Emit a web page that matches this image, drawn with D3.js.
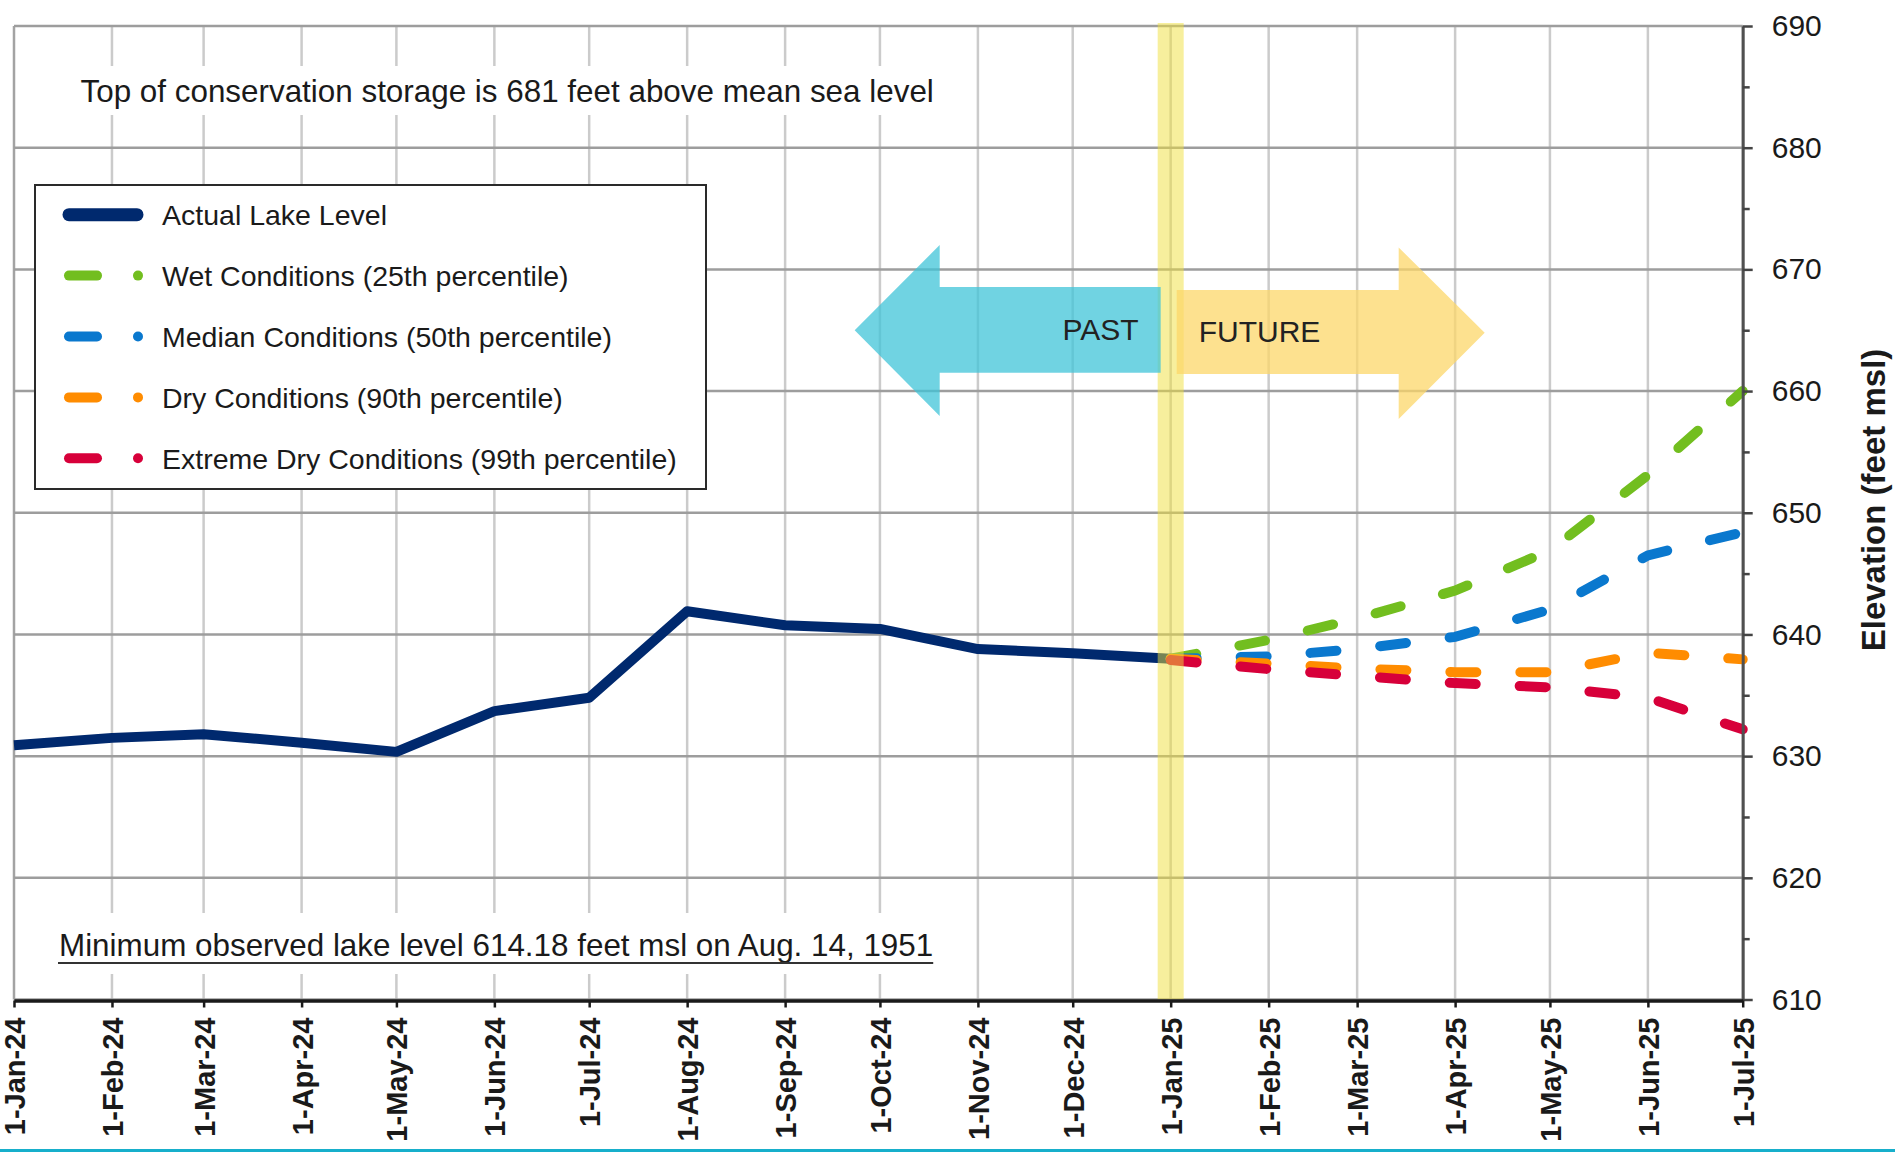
<!DOCTYPE html>
<html>
<head>
<meta charset="utf-8">
<script src="https://cdn.jsdelivr.net/npm/d3@7"></script>
<style>
  body { margin: 0; background: #fff; }
  svg { display: block; font-family: "Liberation Sans", Arial, sans-serif; }
</style>
</head>
<body>
<div id="vizArea"></div>
<script>
// month ticks, 1-Jan-24 .. 1-Jul-25
const monthLabels = ["1-Jan-24", "1-Feb-24", "1-Mar-24", "1-Apr-24", "1-May-24", "1-Jun-24",
  "1-Jul-24", "1-Aug-24", "1-Sep-24", "1-Oct-24", "1-Nov-24", "1-Dec-24", "1-Jan-25",
  "1-Feb-25", "1-Mar-25", "1-Apr-25", "1-May-25", "1-Jun-25", "1-Jul-25"];

// lake elevation, feet msl
const actualLevel = [630.9, 631.5, 631.8, 631.1, 630.35, 633.7, 634.8, 641.9, 640.75, 640.45, 638.8, 638.45, 638.0];
const forecastLabels = monthLabels.slice(12);
const wetLevel = [638.0, 639.55, 641.3, 643.6, 646.9, 653.1, 660.0];
const medianLevel = [638.0, 638.2, 638.8, 639.8, 642.05, 646.5, 648.4];
const dryLevel = [638.0, 637.6, 637.2, 636.9, 636.9, 638.5, 637.95];
const extremeLevel = [637.9, 637.15, 636.6, 636.0, 635.65, 634.8, 632.2];

const elevationTicks = [610, 620, 630, 640, 650, 660, 670, 680, 690];
const minorTicks = [615, 625, 635, 645, 655, 665, 675, 685];

const legendNames = ["Actual Lake Level", "Wet Conditions (25th percentile)", "Median Conditions (50th percentile)",
  "Dry Conditions (90th percentile)", "Extreme Dry Conditions (99th percentile)"];
const legendColors = ["#00296e", "#72be1f", "#0a78ce", "#ff8c00", "#d7003a"];

const width = 1895, height = 1152;
const plotLeft = 14, plotRight = 1742.7, plotTop = 26, plotBottom = 999.5;

const parseMonth = d3.timeParse("%d-%b-%y");
const monthDates = monthLabels.map(parseMonth);

const svg = d3.select("#vizArea")
  .append("svg")
  .attr("width", width)
  .attr("height", height);

const x = d3.scaleTime()
  .domain(d3.extent(monthDates))
  .range([plotLeft, plotRight]);

const y = d3.scaleLinear()
  .domain([610, 690])
  .range([plotBottom, plotTop]);

// grid
svg.append("g")
  .selectAll("line")
  .data(monthDates)
  .join("line")
  .attr("x1", d => x(d)).attr("x2", d => x(d))
  .attr("y1", plotTop).attr("y2", plotBottom)
  .attr("stroke", (d, i) => i == 0 ? "#a3a3a3" : "#cbcbcb")
  .attr("stroke-width", 2.5);

svg.append("g")
  .selectAll("line")
  .data(elevationTicks)
  .join("line")
  .attr("x1", plotLeft).attr("x2", plotRight)
  .attr("y1", d => y(d)).attr("y2", d => y(d))
  .attr("stroke", "#9d9d9d")
  .attr("stroke-width", 2.5);

// notes with white backing
svg.append("rect").attr("x", 70).attr("y", 66).attr("width", 872).attr("height", 49).attr("fill", "#fff");
svg.append("text")
  .attr("x", 80.5).attr("y", 101.5)
  .attr("font-size", 31.4).attr("fill", "#1a1a1a")
  .text("Top of conservation storage is 681 feet above mean sea level");

svg.append("rect").attr("x", 50).attr("y", 913).attr("width", 890).attr("height", 61).attr("fill", "#fff");
const minNote = svg.append("text")
  .attr("x", 59).attr("y", 956)
  .attr("font-size", 31.4).attr("fill", "#1a1a1a")
  .text("Minimum observed lake level 614.18 feet msl on Aug. 14, 1951");
svg.append("line")
  .attr("x1", 58).attr("x2", 59 + minNote.node().getComputedTextLength())
  .attr("y1", 963).attr("y2", 963)
  .attr("stroke", "#333").attr("stroke-width", 2);

// legend
const legend = svg.append("g");
legend.append("rect")
  .attr("x", 35).attr("y", 185).attr("width", 671).attr("height", 304)
  .attr("fill", "#fff").attr("stroke", "#2a2a2a").attr("stroke-width", 2);

const item = legend.selectAll("g.item")
  .data(legendNames)
  .join("g")
  .attr("class", "item")
  .attr("transform", (d, i) => `translate(0,${214.7 + i * 60.9})`);

item.append("line")
  .attr("x1", 69).attr("x2", d => d == legendNames[0] ? 137 : 97)
  .attr("stroke", (d, i) => legendColors[i])
  .attr("stroke-width", (d, i) => i == 0 ? 13 : 10)
  .attr("stroke-linecap", "round");
item.filter((d, i) => i > 0)
  .append("circle")
  .attr("cx", 138).attr("r", 5)
  .attr("fill", d => legendColors[legendNames.indexOf(d)]);
item.append("text")
  .attr("x", 162).attr("dy", "0.36em")
  .attr("font-size", 28.5).attr("fill", "#1a1a1a")
  .text(d => d);

// lines
const line = d3.line()
  .x(d => x(d.date))
  .y(d => y(d.value));

svg.append("path")
  .datum(actualLevel.map((v, i) => ({date: monthDates[i], value: v})))
  .attr("fill", "none")
  .attr("stroke", legendColors[0])
  .attr("stroke-width", 10)
  .attr("stroke-linejoin", "round")
  .attr("d", line);

const forecasts = [wetLevel, medianLevel, dryLevel, extremeLevel];
forecasts.forEach((series, k) => {
  svg.append("path")
    .datum(series.map((v, i) => ({date: parseMonth(forecastLabels[i]), value: v})))
    .attr("fill", "none")
    .attr("stroke", legendColors[k + 1])
    .attr("stroke-width", 10)
    .attr("stroke-linecap", "round")
    .attr("stroke-dasharray", "26,44")
    .attr("d", line);
});

// today band
const x0 = x(parseMonth("1-Jan-25"));
svg.append("rect")
  .attr("x", x0 - 13).attr("y", plotTop - 3)
  .attr("width", 26).attr("height", plotBottom - plotTop + 3)
  .attr("fill", "#f0e03c").attr("opacity", 0.5);

// past / future arrows
const pastArrow = [[x0 - 316, 665], [x0 - 231, 672], [x0 - 231, 668.55], [x0 - 10, 668.55],
  [x0 - 10, 661.5], [x0 - 231, 661.5], [x0 - 231, 657.95]];
const futureArrow = [[x0 + 6, 668.3], [x0 + 228, 668.3], [x0 + 228, 671.8], [x0 + 314, 664.8],
  [x0 + 228, 657.7], [x0 + 228, 661.4], [x0 + 6, 661.4]];

svg.append("path")
  .attr("d", "M" + pastArrow.map(p => [p[0], y(p[1])].join(",")).join("L") + "Z")
  .attr("fill", "rgb(64,196,216)").attr("opacity", 0.75);
svg.append("path")
  .attr("d", "M" + futureArrow.map(p => [p[0], y(p[1])].join(",")).join("L") + "Z")
  .attr("fill", "rgb(252,215,106)").attr("opacity", 0.75);

svg.append("text")
  .attr("x", x0 - 32).attr("y", 340)
  .attr("text-anchor", "end")
  .attr("font-size", 30).attr("fill", "#222")
  .text("PAST");
svg.append("text")
  .attr("x", x0 + 28).attr("y", 341.5)
  .attr("font-size", 30).attr("fill", "#222")
  .text("FUTURE");

// axes
const yAxis = svg.append("g")
  .attr("transform", `translate(${plotRight},0)`)
  .call(d3.axisRight(y).tickValues(elevationTicks).tickSize(10).tickSizeOuter(0).tickPadding(19));
yAxis.append("g")
  .call(d3.axisRight(y).tickValues(minorTicks).tickSize(7).tickFormat(""))
  .select(".domain").remove();
yAxis.selectAll("line").attr("stroke", "#444").attr("stroke-width", 2.5);
yAxis.select(".domain").attr("stroke", "#505050").attr("stroke-width", 3);
yAxis.selectAll("text").attr("font-size", 30).attr("fill", "#1a1a1a")
  .attr("font-family", "Liberation Sans, Arial, sans-serif");

const xAxis = svg.append("g")
  .attr("transform", `translate(0,${plotBottom + 1})`)
  .call(d3.axisBottom(x).tickValues(monthDates).tickSize(7).tickSizeOuter(0)
    .tickFormat((d, i) => monthLabels[i]));
xAxis.select(".domain").attr("stroke", "#1a1a1a").attr("stroke-width", 3.5);
xAxis.selectAll("line").attr("stroke", "#1a1a1a").attr("stroke-width", 2.5);
xAxis.selectAll("text")
  .attr("transform", "rotate(-90)")
  .attr("text-anchor", "end")
  .attr("x", -17).attr("y", 0).attr("dy", "0.36em")
  .attr("font-size", 29).attr("font-weight", "bold").attr("fill", "#1a1a1a")
  .attr("font-family", "Liberation Sans, Arial, sans-serif");

svg.append("text")
  .attr("transform", "translate(1873,500) rotate(-90)")
  .attr("text-anchor", "middle").attr("dy", "0.36em")
  .attr("font-size", 33).attr("font-weight", "bold").attr("fill", "#1a1a1a")
  .text("Elevation (feet msl)");

// bottom edge strip
svg.append("rect")
  .attr("x", 0).attr("y", 1149).attr("width", width).attr("height", 3)
  .attr("fill", "#17afcb");
</script>
</body>
</html>
